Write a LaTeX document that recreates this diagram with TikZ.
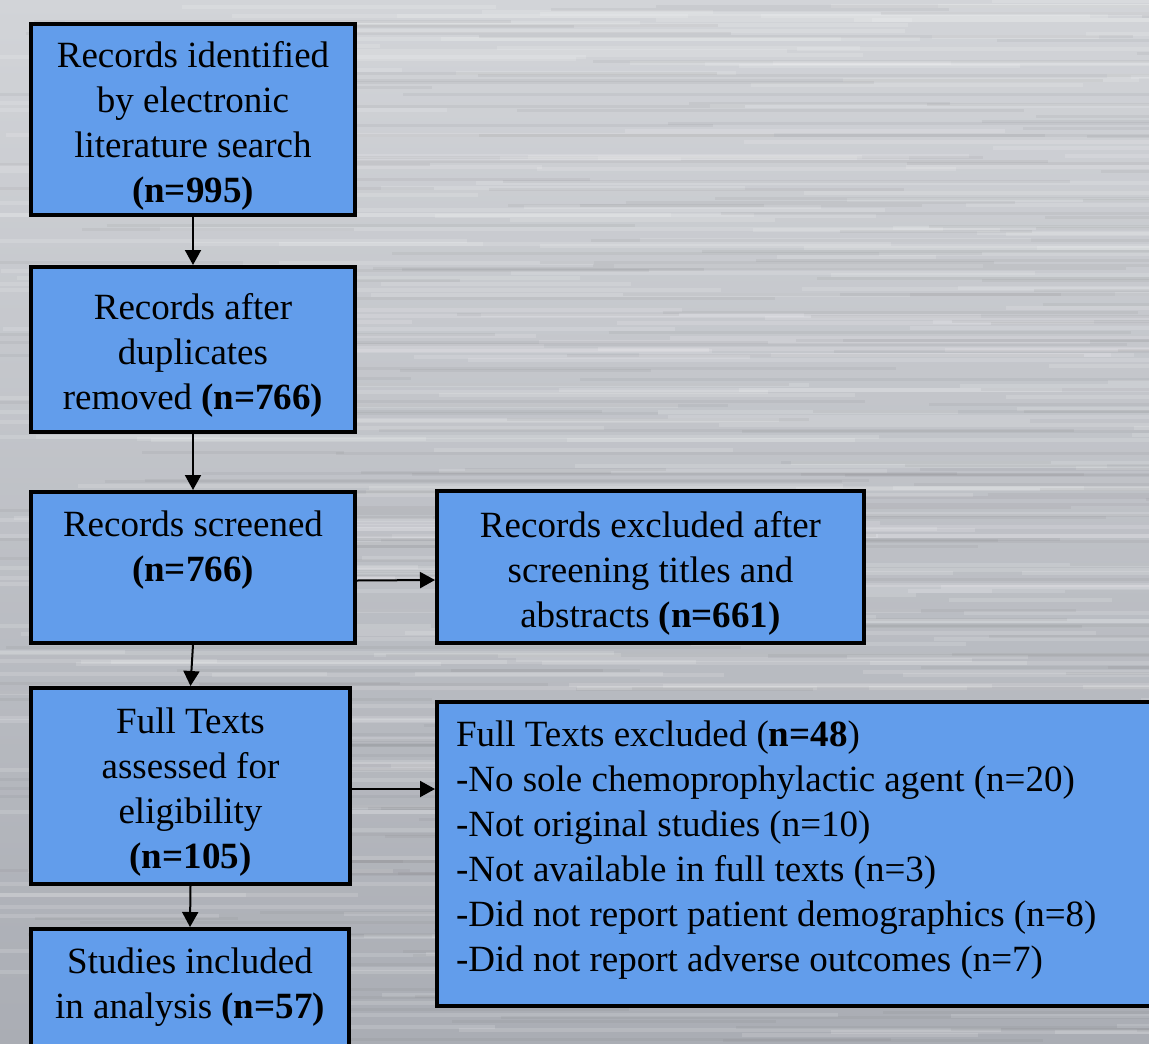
\documentclass[tikz,border=0pt]{standalone}
\usepackage{fontspec}
\setmainfont{Liberation Serif}
\usepackage{xcolor}
\usetikzlibrary{arrows.meta,positioning}

\definecolor{boxblue}{RGB}{98,157,235}
\definecolor{metaltop}{RGB}{210,212,216}
\definecolor{metalbot}{RGB}{170,173,180}

\newcommand{\toptext}[3]{\parbox[c][#1][t]{#2}{#3}}
\newcommand{\midtext}[2]{\raisebox{-3pt}[\height][\depth]{\parbox{#1}{\centering #2}}}

\tikzset{
  flowbox/.style={draw=black, line width=2pt, fill=boxblue, align=center,
    inner sep=0pt, font=\fontsize{18.5}{22.5}\selectfont},
  topbox/.style={flowbox, inner xsep=9.5pt, inner ysep=9.5pt},
  flowarrow/.style={-{Triangle[length=7.5pt,width=8pt]}, line width=1pt, draw=black}
}

\begin{document}
\begin{tikzpicture}[x=0.5pt,y=-0.5pt,line join=miter]

%brushed metal background
\useasboundingbox (0,0) rectangle (1149,1043);
\clip (0,0) rectangle (1149,1043);
\shade[top color=metaltop, bottom color=metalbot] (0,0) rectangle (1149,1043);
\pgfmathsetseed{11}
\foreach \i in {1,...,320}{
  \pgfmathsetmacro\ya{rnd*1043}
  \pgfmathsetmacro\xa{rnd*1249-100}
  \pgfmathsetmacro\len{150+rnd*700}
  \draw[white, line width=2pt, opacity=0.14] (\xa,\ya) -- ++(\len,0);
}
\foreach \i in {1,...,260}{
  \pgfmathsetmacro\ya{rnd*1043}
  \pgfmathsetmacro\xa{rnd*1249-100}
  \pgfmathsetmacro\len{150+rnd*700}
  \draw[black!60, line width=1.5pt, opacity=0.08] (\xa,\ya) -- ++(\len,0);
}

%boxes of the left column
\node[flowbox, minimum width=162pt, minimum height=95.5pt] (ident) at (193,119.5)
  {\midtext{150pt}{Records identified\\by electronic\\literature search\\\textbf{(n=995)}}};
\node[flowbox, minimum width=162pt, minimum height=82.5pt] (dupl) at (193,349.5)
  {\midtext{150pt}{Records after\\duplicates\\removed \textbf{(n=766)}}};
\node[topbox] (screen) at (193,567.5)
  {\toptext{56.5pt}{143pt}{\centering Records screened\\\textbf{(n=766)}}};
\node[flowbox, minimum width=159.5pt, minimum height=98pt] (full) at (190.5,786)
  {\midtext{150pt}{Full Texts\\assessed for\\eligibility\\\textbf{(n=105)}}};
\node[topbox] (incl) at (190,999.5)
  {\toptext{51.5pt}{140pt}{\centering Studies included\\in analysis \textbf{(n=57)}}};

%boxes of the right column
\node[flowbox, minimum width=213.5pt, minimum height=76pt] (exscreen) at (650.5,567)
  {\midtext{200pt}{Records excluded after\\screening titles and\\abstracts \textbf{(n=661)}}};
\node[topbox] (exfull) at (803.5,854)
  {\toptext{133pt}{347.5pt}{\raggedright Full Texts excluded (\textbf{n=48})\\
  -No sole chemoprophylactic agent (n=20)\\
  -Not original studies (n=10)\\
  -Not available in full texts (n=3)\\
  -Did not report patient demographics (n=8)\\
  -Did not report adverse outcomes (n=7)}};

%connectors
\coordinate (fullout) at ([yshift=-1.5pt]full.east);
\draw[flowarrow] (ident.south) -- (dupl.north);
\draw[flowarrow] (dupl.south) -- (screen.north);
\draw[flowarrow] (screen.south) -- (full.north);
\draw[flowarrow] (full.south) -- (incl.north);
\draw[flowarrow] ([yshift=-6.5pt]screen.east) -- ([yshift=-6.5pt]exscreen.west);
\draw[flowarrow] (fullout) -- (exfull.west |- fullout);

\end{tikzpicture}
\end{document}
